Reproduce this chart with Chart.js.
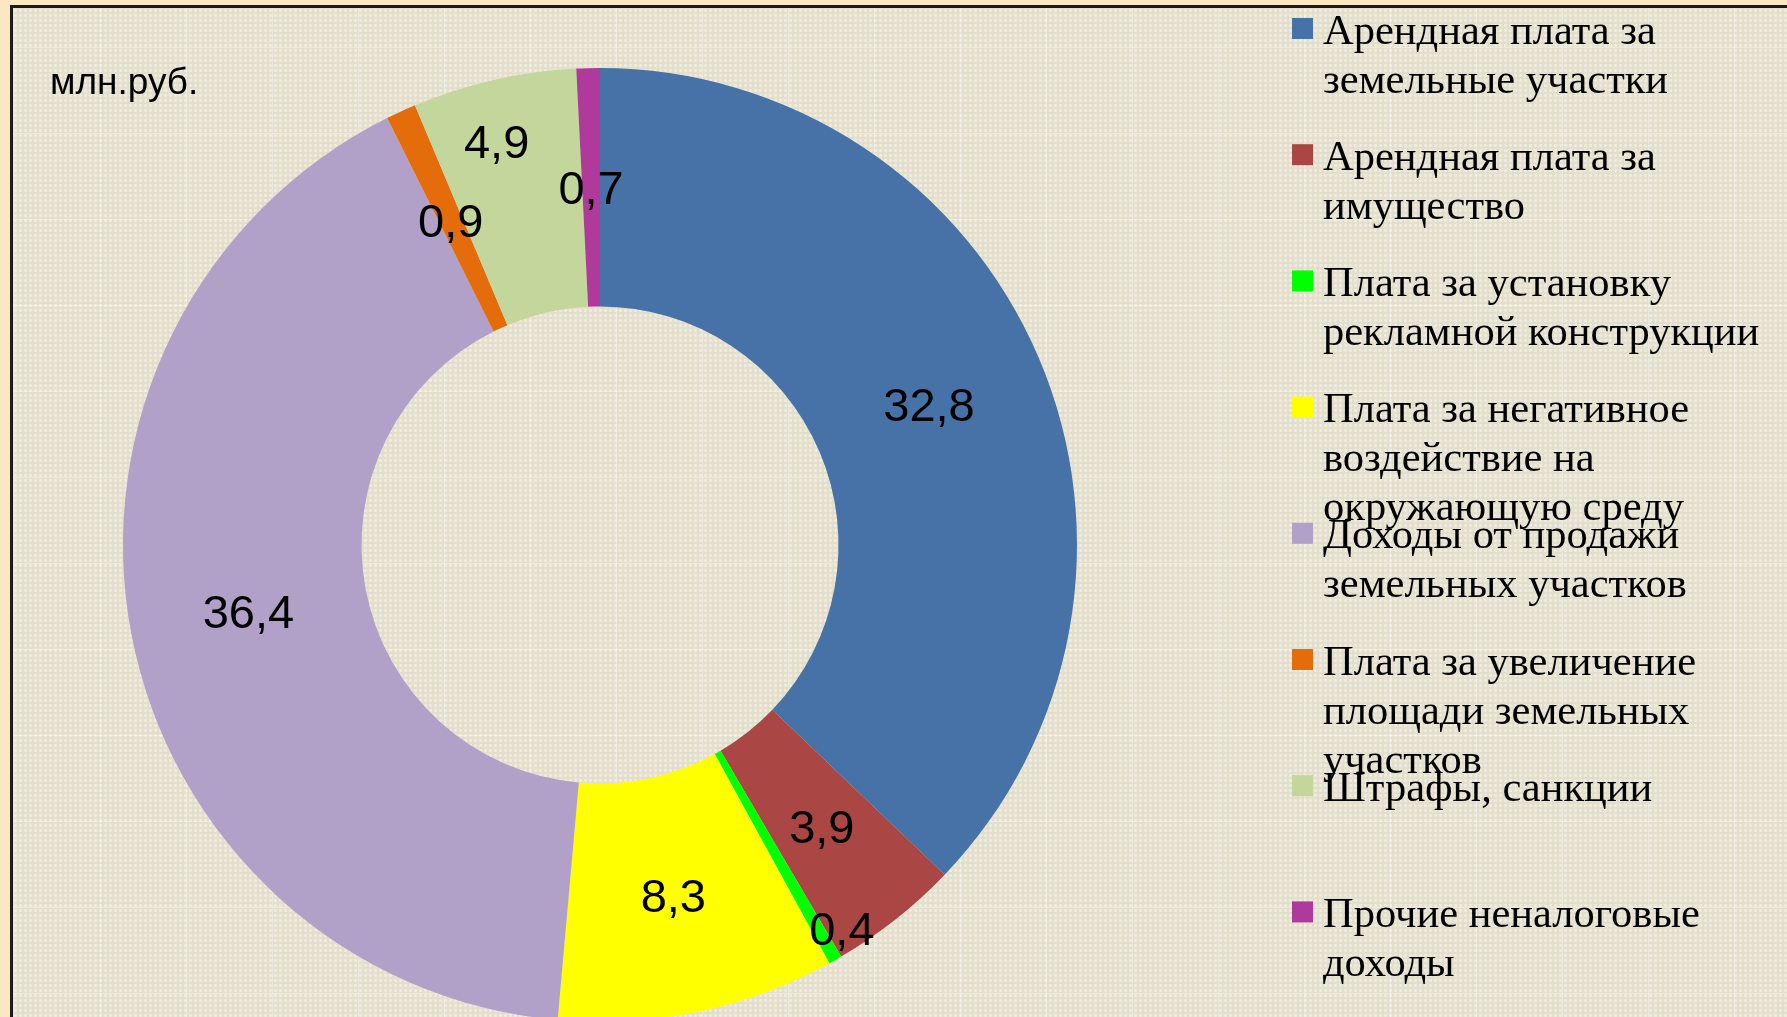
<!DOCTYPE html>
<html>
<head>
<meta charset="utf-8">
<script src="https://cdn.jsdelivr.net/npm/chart.js@4"></script>
<style>
  html, body { margin: 0; padding: 0; width: 1787px; height: 1017px; overflow: hidden; background: #FBE8C2; }
  #frame {
    position: absolute; left: 10px; top: 5px; width: 1800px; height: 1100px;
    border-left: 3px solid #1c1c1c; border-top: 3px solid #1c1c1c;
    background-color: #E3DFCC;
    background-image:
      linear-gradient(90deg, rgba(255,255,255,0.3) 1px, transparent 1px),
      linear-gradient(0deg, rgba(255,255,255,0.3) 1px, transparent 1px),
      radial-gradient(circle, #EFECDF 1.2px, transparent 1.8px);
    background-size: 86px 86px, 86px 86px, 5px 5px;
    background-position: 1px 0px, 0px 40px, 0 0;
  }
  #wrap { position: absolute; left: 0; top: 0; width: 1787px; height: 1030px; }
</style>
</head>
<body>
<div id="frame"></div>
<div id="wrap"><canvas id="donut"></canvas></div>
<script>
const categories = [
    ['Арендная плата за', 'земельные участки'],
    ['Арендная плата за', 'имущество'],
    ['Плата за установку', 'рекламной конструкции'],
    ['Плата за негативное', 'воздействие на', 'окружающую среду'],
    ['Доходы от продажи', 'земельных участков'],
    ['Плата за увеличение', 'площади земельных', 'участков'],
    ['Штрафы, санкции'],
    ['Прочие неналоговые', 'доходы']
];
const values = [32.8, 3.9, 0.4, 8.3, 36.4, 0.9, 4.9, 0.7];
const colors = ['#4672A8', '#AA4643', '#00FF00', '#FFFF00', '#B1A0C7', '#E46C0A', '#C3D69B', '#B03A9C'];
const unitLabel = 'млн.руб.';

// label placement tweaks for the tiny slices (fraction of ring, angle shift in deg)
const labelPos = [null, null, { r: 0.9, da: -2.7 }, null, null, null, { r: 0.75, da: -1.5 }, null];

const valueLabels = {
    id: 'valueLabels',
    afterDatasetsDraw(chart) {
        const ctx = chart.ctx;
        const meta = chart.getDatasetMeta(0);
        ctx.save();
        ctx.font = '47px "Liberation Sans", Arial, sans-serif';
        ctx.fillStyle = '#000';
        ctx.textAlign = 'center';
        ctx.textBaseline = 'middle';
        meta.data.forEach((arc, i) => {
            const p = arc.getProps(['x', 'y', 'startAngle', 'endAngle', 'innerRadius', 'outerRadius'], true);
            const tweak = labelPos[i] || { r: 0.5, da: 0 };
            const mid = (p.startAngle + p.endAngle) / 2 + tweak.da * Math.PI / 180;
            const r = p.innerRadius + (p.outerRadius - p.innerRadius) * tweak.r;
            const txt = values[i].toFixed(1).replace('.', ',');
            ctx.fillText(txt, p.x + Math.cos(mid) * r, p.y + Math.sin(mid) * r + 4);
        });
        ctx.restore();
    }
};

const sideLegend = {
    id: 'sideLegend',
    afterDraw(chart) {
        const ctx = chart.ctx;
        ctx.save();
        ctx.font = '42.5px "Liberation Serif", "Times New Roman", serif';
        ctx.textBaseline = 'alphabetic';
        ctx.textAlign = 'left';
        categories.forEach((lines, i) => {
            const cy = 28.5 + i * 126.2;
            ctx.fillStyle = colors[i];
            ctx.fillRect(1292, cy - 10.5, 21, 21);
            ctx.fillStyle = '#000';
            lines.forEach((ln, k) => ctx.fillText(ln, 1323, cy + 15 + k * 49));
        });
        ctx.font = '37px "Liberation Sans", Arial, sans-serif';
        ctx.fillText(unitLabel, 50, 94);
        ctx.restore();
    }
};

new Chart(document.getElementById('donut').getContext('2d'), {
    type: 'doughnut',
    data: {
        labels: categories.map(c => c.join(' ')),
        datasets: [{
            data: values,
            backgroundColor: colors,
            borderWidth: 0
        }]
    },
    options: {
        responsive: true,
        maintainAspectRatio: false,
        animation: false,
        cutout: '50%',
        layout: { padding: { left: 123, right: 710, top: 68, bottom: 8 } },
        plugins: {
            legend: { display: false },
            tooltip: { enabled: false }
        }
    },
    plugins: [valueLabels, sideLegend]
});
</script>
</body>
</html>
